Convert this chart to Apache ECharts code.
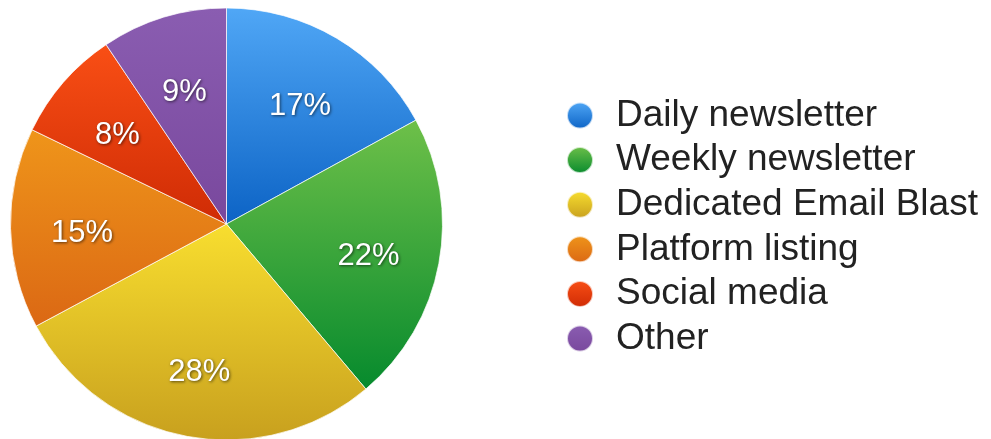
<!DOCTYPE html>
<html>
<head>
<meta charset="utf-8">
<script src="https://cdn.jsdelivr.net/npm/echarts@6/dist/echarts.min.js"></script>
<style>
  html, body { margin: 0; padding: 0; background: #fff; }
  #chart { width: 991px; height: 439px; }
</style>
</head>
<body>
<div id="chart"></div>
<script>
// data (slice sizes, labels are the rounded shares)
const categories = ['Daily newsletter', 'Weekly newsletter', 'Dedicated Email Blast', 'Platform listing', 'Social media', 'Other'];
const shares = [17, 21.8, 28.3, 15, 8.4, 9.4];
// gradient top / bottom per slice
const topColors = ['#50a7f6', '#6ec049', '#f8de2f', '#ef951a', '#f94f15', '#8a5db1'];
const bottomColors = ['#0c63c5', '#068a2d', '#c8a01e', '#db6814', '#cf2b05', '#79489d'];

const chart = echarts.init(document.getElementById('chart'));

const grad = (i) => new echarts.graphic.LinearGradient(0, 0, 0, 1, [
  { offset: 0, color: topColors[i] },
  { offset: 1, color: bottomColors[i] },
]);

const pieData = categories.map((name, i) => ({
  name,
  value: shares[i],
  itemStyle: { color: grad(i) },
}));

const font = '"Liberation Sans", "Helvetica Neue", Arial, sans-serif';

const option = {
  animation: false,
  legend: {
    orient: 'vertical',
    left: 566,
    top: 97,
    padding: 0,
    icon: 'circle',
    itemWidth: 26,
    itemHeight: 26,
    itemGap: 7.6,
    data: categories,
    textStyle: {
      fontFamily: font,
      fontSize: 37,
      color: '#222',
      padding: [0, 0, 0, 18],
    },
  },
  series: [
    {
      type: 'pie',
      center: [226.5, 224],
      radius: 216,
      startAngle: 90,
      clockwise: true,
      silent: true,
      label: { show: false },
      labelLine: { show: false },
      itemStyle: { borderColor: 'rgba(255,255,255,0.7)', borderWidth: 1 },
      data: pieData,
    },
    {
      // transparent ring only to place the percent labels further out
      type: 'pie',
      center: [226.5, 230.5],
      radius: [67, 216],
      startAngle: 90,
      clockwise: true,
      silent: true,
      legendHoverLink: false,
      itemStyle: { color: 'rgba(0,0,0,0)' },
      label: {
        show: true,
        position: 'inside',
        formatter: (p) => Math.round(p.value) + '%',
        fontFamily: font,
        fontSize: 31,
        color: '#fff',
        textShadowColor: 'rgba(0,0,0,0.6)',
        textShadowBlur: 3,
        textShadowOffsetX: 1,
        textShadowOffsetY: 1,
      },
      labelLine: { show: false },
      data: categories.map((name, i) => ({ name: name + ' ', value: shares[i] })),
    },
  ],
};

chart.setOption(option);
</script>
</body>
</html>
